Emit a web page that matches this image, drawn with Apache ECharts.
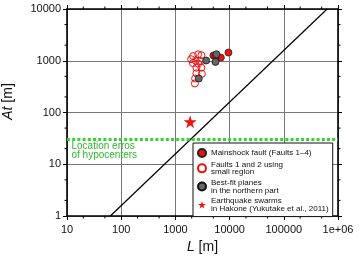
<!DOCTYPE html>
<html><head><meta charset="utf-8">
<script src="https://cdn.jsdelivr.net/npm/echarts@6/dist/echarts.min.js"></script>
<style>html,body{margin:0;padding:0;background:#fff}#c{width:360px;height:259px}</style>
</head><body><div id="c"></div>
<script>
// Data (L [m], At [m])
var mainL  = [9530, 6890, 5030, 5600];
var mainAt = [1440, 1150, 1260, 1220];
var smallL  = [2120, 2630, 3020, 1950, 2380, 2860, 2100, 2630, 2440, 3020, 2440, 3080, 2310, 2290];
var smallAt = [1230, 1330, 1280, 1070, 1000, 1000, 900, 880, 735, 735, 570, 560, 454, 364];
var northL  = [5720, 5480, 3690, 2700];
var northAt = [1336, 950, 1010, 454];
var swarmL  = [1870];
var swarmAt = [66];
var diagL  = [63, 630000];
var diagAt = [1, 10000];
var hypoL  = [10, 1000000];
var hypoAt = [30, 30];
var xMinor = [20, 50, 200, 500, 2000, 5000, 20000, 50000, 200000, 500000];
var yMinor = [2, 5, 20, 50, 200, 500, 2000, 5000];
var names = ['Mainshock fault (Faults 1\u20134)', 'Faults 1 and 2 using\nsmall region', 'Best-fit planes\nin the northern part', 'Earthquake swarms\nin Hakone (Yukutake et al., 2011)'];

function zip(a, b) { return a.map(function (v, i) { return [v, b[i]]; }); }
var FONT = '"Liberation Sans", Arial, Helvetica, sans-serif';
var STAR = 'path://M50,0 L61,35 L98,35 L68,57 L79,91 L50,70 L21,91 L32,57 L2,35 L39,35 Z';

var chart = echarts.init(document.getElementById('c'), null, {renderer: 'canvas'});
function xFmt(v) { return v >= 1000000 ? '1e+06' : String(Math.round(v)); }
function yFmt(v) { return String(Math.round(v)); }
function baseX(pos, showLabel) {
  return {
    type: 'log', logBase: 10, min: 10, max: 1000000, position: pos,
    axisLine: {show: true, onZero: false, lineStyle: {color: '#000', width: 1.6}},
    axisTick: {show: true, inside: false, length: 4, lineStyle: {color: '#000', width: 1}},
    axisLabel: {show: showLabel, formatter: xFmt, fontFamily: FONT, fontSize: 11, color: '#111', margin: 8},
    splitLine: {show: showLabel, lineStyle: {color: '#777', width: 1}},
    minorTick: {show: false}
  };
}
function baseY(pos, showLabel) {
  return {
    type: 'log', logBase: 10, min: 1, max: 10000, position: pos,
    axisLine: {show: true, onZero: false, lineStyle: {color: '#000', width: 1.6}},
    axisTick: {show: true, inside: false, length: 4, lineStyle: {color: '#000', width: 1}},
    axisLabel: {show: showLabel, formatter: yFmt, fontFamily: FONT, fontSize: 11, color: '#111', margin: 6},
    splitLine: {show: showLabel, lineStyle: {color: '#777', width: 1}},
    minorTick: {show: false}
  };
}
var x0 = baseX('bottom', true);
x0.name = '{i|L} [m]'; x0.nameLocation = 'middle'; x0.nameGap = 23;
x0.nameTextStyle = {fontFamily: FONT, fontSize: 14, color: '#111', rich: {i: {fontStyle: 'italic', fontFamily: FONT, fontSize: 14}}};
var y0 = baseY('left', true);
y0.name = '{i|At} [m]'; y0.nameLocation = 'middle'; y0.nameGap = 52;
y0.nameTextStyle = {fontFamily: FONT, fontSize: 14, color: '#111', padding: [0, 0, 0, 22], rich: {i: {fontStyle: 'italic', fontFamily: FONT, fontSize: 14}}};

function minorSeries(vals, isX) {
  return {
    type: 'custom', silent: true, clip: false, xAxisIndex: 0, yAxisIndex: 0, z: 1,
    data: vals.map(function (v) { return isX ? [v, 1] : [10, v]; }),
    renderItem: function (params, api) {
      var els = [];
      if (isX) {
        var b = api.coord([api.value(0), 1]);
        var t = api.coord([api.value(0), 10000]);
        els.push({type: 'line', shape: {x1: b[0], y1: b[1], x2: b[0], y2: b[1] + 2.5}, style: {stroke: '#000', lineWidth: 1}});
        els.push({type: 'line', shape: {x1: t[0], y1: t[1], x2: t[0], y2: t[1] - 2.5}, style: {stroke: '#000', lineWidth: 1}});
      } else {
        var l = api.coord([10, api.value(1)]);
        var r = api.coord([1000000, api.value(1)]);
        els.push({type: 'line', shape: {x1: l[0], y1: l[1], x2: l[0] - 2.5, y2: l[1]}, style: {stroke: '#000', lineWidth: 1}});
        els.push({type: 'line', shape: {x1: r[0], y1: r[1], x2: r[0] + 2.5, y2: r[1]}, style: {stroke: '#000', lineWidth: 1}});
      }
      return {type: 'group', children: els};
    }
  };
}

var hypoData = zip(hypoL, hypoAt).map(function (p, i) {
  if (i === 0) {
    return {value: p, label: {show: true, position: [5, 3], align: 'left', verticalAlign: 'top',
      formatter: 'Location erros\nof hypocenters', fontFamily: FONT, fontSize: 10, lineHeight: 9, color: '#2db82d'}};
  }
  return p;
});

var option = {
  animation: false,
  backgroundColor: '#fff',
  grid: {left: 67, right: 22, top: 9, bottom: 43, containLabel: false, outerBoundsMode: 'none'},
  xAxis: [x0, baseX('top', false)],
  yAxis: [y0, baseY('right', false)],
  legend: {
    orient: 'vertical', left: 193, top: 143,
    backgroundColor: '#fff', borderColor: '#111', borderWidth: 1, borderRadius: 0,
    padding: [5, 4, 4, 4], itemGap: 2.5, itemWidth: 8, itemHeight: 8,
    textStyle: {fontFamily: FONT, fontSize: 8, lineHeight: 7.7, color: '#111'},
    data: names, selectedMode: false
  },
  series: [
    minorSeries(xMinor, true),
    minorSeries(yMinor, false),
    {type: 'line', silent: true, data: zip(diagL, diagAt), symbol: 'none', clip: true, z: 2,
      lineStyle: {color: '#000', width: 1.2}},
    {type: 'line', silent: true, data: hypoData, symbol: 'circle', symbolSize: 1, showSymbol: true, z: 3,
      itemStyle: {color: 'rgba(0,0,0,0)'},
      lineStyle: {color: '#33d433', width: 3, type: [3, 2.2]}},
    {name: names[0], type: 'scatter', data: zip(mainL, mainAt), symbol: 'circle', symbolSize: 7, z: 5,
      itemStyle: {color: '#ee1111', borderColor: '#222', borderWidth: 0.8, opacity: 1}},
    {name: names[1], type: 'scatter', data: zip(smallL, smallAt), symbol: 'circle', symbolSize: 7, z: 4,
      itemStyle: {color: 'rgba(255,255,255,0)', borderColor: '#ee1111', borderWidth: 1, opacity: 1}},
    {name: names[2], type: 'scatter', data: zip(northL, northAt), symbol: 'circle', symbolSize: 7, z: 6,
      itemStyle: {color: '#666666', borderColor: '#111', borderWidth: 0.8, opacity: 1}},
    {name: names[3], type: 'scatter', data: zip(swarmL, swarmAt), symbol: STAR, symbolSize: 13, z: 7,
      itemStyle: {color: '#ee1111', opacity: 1}}
  ]
};
chart.setOption(option);
</script>
</body></html>
